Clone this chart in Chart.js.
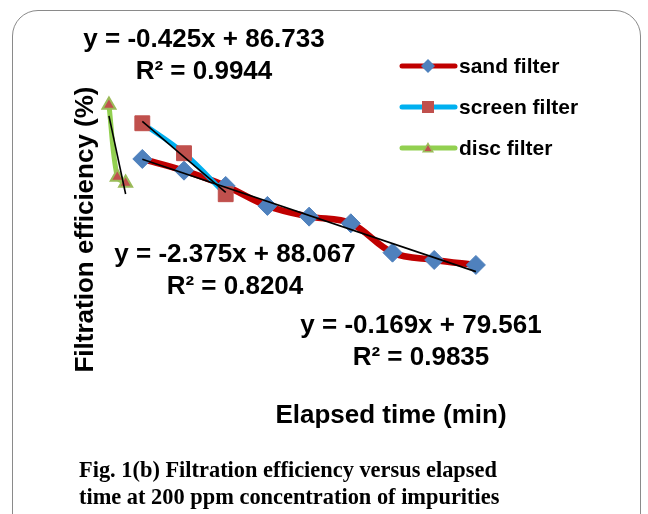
<!DOCTYPE html>
<html>
<head>
<meta charset="utf-8">
<script src="https://cdn.jsdelivr.net/npm/chart.js@4.4.0/dist/chart.umd.min.js"></script>
<style>
  html, body { margin: 0; padding: 0; background: #fff; }
  #frame { position: absolute; left: 12px; top: 10px; width: 627px; height: 560px; border: 1.5px solid #8a8a8a; border-radius: 26px; }
  #wrap { position: absolute; left: 0; top: 0; width: 648px; height: 514px; }
</style>
</head>
<body>
<div id="frame"></div>
<div id="wrap"><canvas id="myChart" width="648" height="514"></canvas></div>
<script>
"use strict";
// elapsed time (min) and filtration efficiency (%) per filter
var sandTime = [10, 20, 30, 40, 50, 60, 70, 80, 90];
var sandEff = [77.92, 76.51, 74.67, 72.26, 70.97, 70.17, 66.63, 65.75, 65.15];
var screenTime = [10, 20, 30];
var screenEff = [82.22, 78.61, 73.67];
var discTime = [2, 4, 6];
var discEff = [84.43, 75.75, 75.03];

var seriesNames = ["sand filter", "screen filter", "disc filter"];
var equations = ["y = -0.425x + 86.733", "y = -2.375x + 88.067", "y = -0.169x + 79.561"];
var rSquared = ["R² = 0.9944", "R² = 0.8204", "R² = 0.9835"];
var xTitle = "Elapsed time (min)";
var yTitle = "Filtration efficiency (%)";
var caption = ["Fig. 1(b) Filtration efficiency versus elapsed", "time at 200 ppm concentration of impurities"];

function pts(xs, ys) {
  return xs.map(function (x, i) { return { x: x, y: ys[i] }; });
}

// least squares line over the data range
function trend(xs, ys) {
  var n = xs.length, sx = 0, sy = 0, sxx = 0, sxy = 0;
  for (var i = 0; i < n; i++) {
    sx += xs[i]; sy += ys[i]; sxx += xs[i] * xs[i]; sxy += xs[i] * ys[i];
  }
  var b = (n * sxy - sx * sy) / (n * sxx - sx * sx);
  var a = (sy - b * sx) / n;
  return [{ x: xs[0], y: a + b * xs[0] }, { x: xs[n - 1], y: a + b * xs[n - 1] }];
}

function trendSet(data) {
  return {
    data: data, borderColor: "#000", borderWidth: 1.6, pointRadius: 0,
    fill: false, tension: 0, order: 0
  };
}

var seriesStyle = [
  { line: "#C00000", style: "rectRot", fill: "#4F81BD", stroke: "#4F81BD", legR: 7 },
  { line: "#00B0F0", style: "rect", fill: "#C0504D", stroke: "#C0504D", legR: 8.5 },
  { line: "#92D050", style: "triangle", fill: "#C0504D", stroke: "#9BBB59", legR: 5.5 }
];

var chartData = {
  datasets: [
    {
      label: seriesNames[0], data: pts(sandTime, sandEff),
      borderColor: seriesStyle[0].line, borderWidth: 6.5, tension: 0.35,
      pointStyle: "rectRot", pointRadius: 9.5, pointBackgroundColor: "#4F81BD",
      pointBorderColor: "#4F81BD", pointBorderWidth: 1, order: 3
    },
    {
      label: seriesNames[1], data: pts(screenTime, screenEff),
      borderColor: seriesStyle[1].line, borderWidth: 5, tension: 0.35,
      pointStyle: "rect", pointRadius: 10.5, pointBackgroundColor: "#C0504D",
      pointBorderColor: "#C0504D", pointBorderWidth: 1, order: 2
    },
    {
      label: seriesNames[2], data: pts(discTime, discEff),
      borderColor: seriesStyle[2].line, borderWidth: 5, tension: 0.35,
      pointStyle: "triangle", pointRadius: 7.5, pointBackgroundColor: "#C0504D",
      pointBorderColor: "#9BBB59", pointBorderWidth: 2, order: 1
    },
    trendSet(trend(sandTime, sandEff)),
    trendSet(trend(screenTime, screenEff)),
    trendSet(trend(discTime, discEff))
  ]
};

var textPlugin = {
  id: "texts",
  afterDraw: function (chart) {
    var ctx = chart.ctx;
    ctx.save();
    ctx.fillStyle = "#000";
    ctx.textAlign = "center";
    ctx.textBaseline = "alphabetic";
    ctx.font = "bold 26px 'Liberation Sans', Arial, sans-serif";
    // trendline labels
    var eqPos = [[204, 47, 79], [235, 262, 294], [421, 333, 365]];
    for (var i = 0; i < 3; i++) {
      ctx.fillText(equations[i], eqPos[i][0], eqPos[i][1]);
      ctx.fillText(rSquared[i], eqPos[i][0], eqPos[i][2]);
    }
    // axis titles
    ctx.fillText(xTitle, 391, 423);
    ctx.save();
    ctx.translate(93, 229.5);
    ctx.rotate(-Math.PI / 2);
    ctx.fillText(yTitle, 0, 0);
    ctx.restore();
    // legend
    ctx.textAlign = "left";
    ctx.font = "bold 21px 'Liberation Sans', Arial, sans-serif";
    var legY = [66, 107, 148];
    for (var k = 0; k < 3; k++) {
      var s = seriesStyle[k];
      ctx.strokeStyle = s.line;
      ctx.lineWidth = 5;
      ctx.lineCap = "round";
      ctx.beginPath();
      ctx.moveTo(402, legY[k]);
      ctx.lineTo(455, legY[k]);
      ctx.stroke();
      ctx.fillStyle = s.fill;
      ctx.strokeStyle = s.stroke;
      ctx.lineWidth = 1.5;
      ctx.lineCap = "butt";
      Chart.helpers.drawPoint(ctx, { pointStyle: s.style, radius: s.legR, rotation: 0, borderWidth: k === 2 ? 1.5 : 0 }, 428, legY[k] + (k === 2 ? 1 : 0));
      ctx.fillStyle = "#000";
      ctx.fillText(seriesNames[k], 459, legY[k] + 7);
    }
    // figure caption
    ctx.font = "bold 22.4px 'Liberation Serif', 'Times New Roman', serif";
    ctx.fillText(caption[0], 79, 477);
    ctx.fillText(caption[1], 79, 504);
    ctx.restore();
  }
};

var ctx = document.getElementById("myChart");
var myChart = new Chart(ctx, {
  type: "line",
  data: chartData,
  options: {
    responsive: false,
    animation: false,
    layout: { padding: { left: 100.6, right: 88.7, top: 75.3, bottom: 206.3 } },
    scales: {
      x: { type: "linear", min: 0, max: 110, display: false },
      y: { min: 60, max: 88, display: false }
    },
    plugins: { legend: { display: false }, tooltip: { enabled: false } }
  },
  plugins: [textPlugin]
});
</script>
</body>
</html>
